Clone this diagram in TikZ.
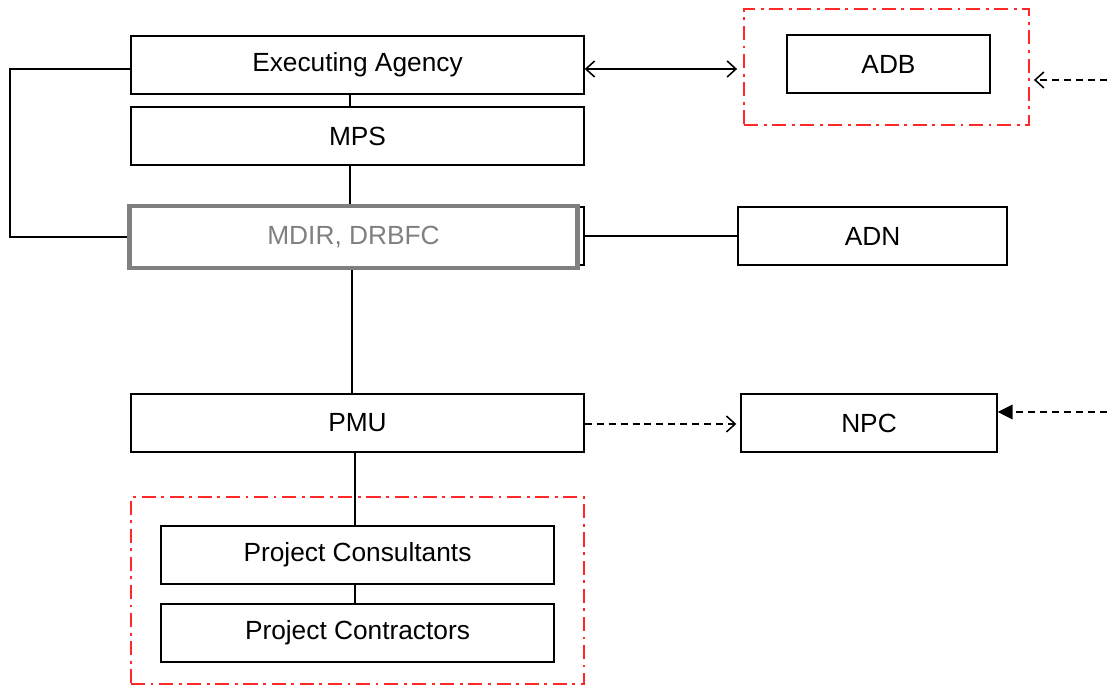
\documentclass[tikz,border=0pt]{standalone}
\usepackage{fontspec}
\setmainfont{Liberation Sans}
\usetikzlibrary{arrows.meta}

\begin{document}
\begin{tikzpicture}[>={Straight Barb[length=2.2mm,width=4mm,line width=1.1pt]}]
			\useasboundingbox (0,0) rectangle (27.675,17.175);
			\tikzstyle{box} = [draw=black,line width=1pt,inner sep=0pt,minimum height=1.45cm,font=\fontsize{18.7}{21}\selectfont];
			\tikzstyle{group} = [draw={rgb,255:red,255;green,40;blue,40},line width=1.3pt,dash pattern=on 10pt off 4pt on 2pt off 4pt,inner sep=0pt];
			\tikzstyle{link} = [line width=0.8pt];
			\tikzstyle{dashlink} = [line width=1.1pt,dash pattern=on 5pt off 3.5pt];
			% groups
			\node[group,minimum width=7.125cm,minimum height=2.9cm] (adbgroup) at (22.1625,15.5) {};
			\node[group,minimum width=11.325cm,minimum height=4.675cm] (projgroup) at (8.9375,2.4125) {};
			% boxes
			\node[box,minimum width=11.325cm] (ea) at (8.9375,15.55) {Executing Agency};
			\node[box,minimum width=11.325cm] (mps) at (8.9375,13.775) {MPS};
			\node[box,minimum width=11.325cm] (mdirback) at (8.9375,11.275) {};
			\node[box,draw=gray,line width=3pt,fill=white,text=gray,minimum width=11.2cm,minimum height=1.55cm] (mdir) at (8.8375,11.25) {MDIR, DRBFC};
			\node[box,minimum width=6.725cm] (adn) at (21.8125,11.275) {ADN};
			\node[box,minimum width=11.325cm] (pmu) at (8.9375,6.6) {PMU};
			\node[box,minimum width=6.4cm] (npc) at (21.725,6.6) {NPC};
			\node[box,minimum width=5.075cm] (adb) at (22.2125,15.575) {ADB};
			\node[box,minimum width=9.825cm] (cons) at (8.9375,3.3) {Project Consultants};
			\node[box,minimum width=9.825cm] (contr) at (8.9375,1.35) {Project Contractors};
			\coordinate (loop) at (0.25,15.45);
			\coordinate (r1) at (27.675,15.175);
			\coordinate (r2) at (27.675,6.875);
			% links
			\draw[link] (ea.south -| 8.75,0) -- (mps.north -| 8.75,0);
			\draw[link] (mps.south -| 8.75,0) -- (mdir.north -| 8.75,0);
			\draw[link] (mdir.south -| 8.8,0) -- (pmu.north -| 8.8,0);
			\draw[link] (pmu.south -| 8.875,0) -- (cons.north -| 8.875,0);
			\draw[link] (cons.south -| 8.875,0) -- (contr.north -| 8.875,0);
			\draw[link] (ea.west |- loop) -- (loop) |- (mdir.west);
			\draw[link] (mdirback.east) -- (adn.west);
			\draw[link,<->] (ea.east |- loop) -- ([xshift=-1.5mm]adbgroup.west |- loop);
			\draw[dashlink,->] (pmu.east |- 0,6.575) -- ([xshift=-1mm]npc.west |- 0,6.575);
			\draw[dashlink,->] (r1) -- ([xshift=1mm]adbgroup.east |- r1);
			\draw[dashlink,-{Triangle[length=3.7mm,width=3.6mm]}] (r2) -- (npc.east |- r2);
		\end{tikzpicture}
\end{document}
